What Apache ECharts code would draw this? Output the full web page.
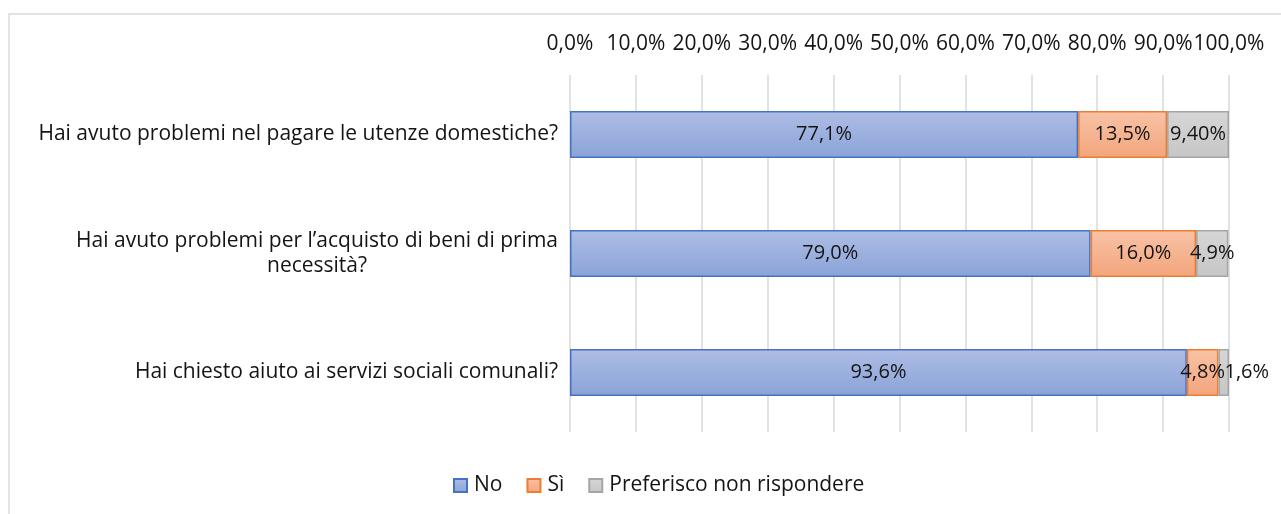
<!DOCTYPE html>
<html>
<head>
<meta charset="utf-8">
<script src="https://cdn.jsdelivr.net/npm/echarts@6/dist/echarts.min.js"></script>
<style>
  html, body { margin: 0; padding: 0; background: #ffffff; }
  #chart { width: 1281px; height: 514px; }
</style>
</head>
<body>
<div id="chart"></div>
<script>
// Survey questions (top to bottom)
const categories = [
  'Hai avuto problemi nel pagare le utenze domestiche?',
  'Hai avuto problemi per l\u2019acquisto di beni di prima necessità?',
  'Hai chiesto aiuto ai servizi sociali comunali?'
];
// Answer shares, percent
const seriesNames = ['No', 'Sì', 'Preferisco non rispondere'];
const noValues = [77.1, 79.0, 93.6];
const siValues = [13.5, 16.0, 4.8];
const nonRispValues = [9.4, 4.9, 1.6];
// Label text as printed on the segments
const nonRispLabels = ['9,40%', '4,9%', '1,6%'];

const FONT = 'Open Sans';
const FS = 21;
const TXT = '#141414';

function pct1(v) { return v.toFixed(1).replace('.', ',') + '%'; }

// Greedy word wrap for the long questions
function wrap(text, maxChars) {
  const words = text.split(' ');
  const lines = [];
  let cur = '';
  words.forEach(w => {
    const next = cur ? cur + ' ' + w : w;
    if (next.length > maxChars && cur) { lines.push(cur); cur = w; }
    else cur = next;
  });
  if (cur) lines.push(cur);
  return lines;
}

function grad(top, bottom) {
  return new echarts.graphic.LinearGradient(0, 0, 0, 1, [
    { offset: 0, color: top },
    { offset: 1, color: bottom }
  ]);
}

const styles = [
  { fill: grad('#aebde4', '#8aa3d8'), border: '#4472c4' },
  { fill: grad('#f8c3a6', '#f3a57c'), border: '#ed7d31' },
  { fill: grad('#d6d6d6', '#c6c6c6'), border: '#a5a5a5' }
];

const valueSets = [noValues, siValues, nonRispValues];

const series = valueSets.map((vals, si) => ({
  name: seriesNames[si],
  type: 'bar',
  stack: 'tot',
  barWidth: 47,
  itemStyle: { color: styles[si].fill, borderColor: styles[si].border, borderWidth: 1.5 },
  label: {
    show: true,
    position: 'inside',
    color: TXT,
    fontFamily: FONT,
    fontSize: 20,
    formatter: p => si === 2 ? nonRispLabels[p.dataIndex] : pct1(p.value)
  },
  emphasis: { disabled: true },
  data: vals.map((v, i) => {
    // the thin last segment carries its label just past its left edge
    if (si === 2 && i === 2) {
      return { value: v, label: { position: 'insideLeft', distance: 6 } };
    }
    return v;
  })
}));

const chart = echarts.init(document.getElementById('chart'), null, { renderer: 'canvas' });
chart.setOption({
  animation: false,
  backgroundColor: '#ffffff',
  graphic: [{
    type: 'rect',
    shape: { x: 9, y: 14, width: 1320, height: 540 },
    style: { fill: 'none', stroke: '#d9d9d9', lineWidth: 1.5 },
    silent: true,
    z: -10
  }],
  grid: { left: 570, right: 52, top: 75, bottom: 82, containLabel: false },
  legend: {
    top: 475,
    left: 453,
    padding: 0,
    itemWidth: 13,
    itemHeight: 13,
    itemGap: 24,
    icon: 'rect',
    textStyle: { color: TXT, fontFamily: FONT, fontSize: FS, padding: [0, 0, 0, 2] },
    data: seriesNames
  },
  xAxis: {
    type: 'value',
    position: 'top',
    min: 0, max: 100, interval: 10,
    axisLine: { show: false },
    axisTick: { show: false },
    splitLine: { show: true, lineStyle: { color: '#d9d9d9', width: 1.5 } },
    axisLabel: { color: TXT, fontFamily: FONT, fontSize: FS, margin: 20, formatter: v => pct1(v) }
  },
  yAxis: {
    type: 'category',
    inverse: true,
    data: categories,
    axisLine: { show: false },
    axisTick: { show: false },
    axisLabel: {
      margin: 12,
      richInheritPlainLabel: false,
      formatter: v => wrap(v, 52).map(l => '{c|' + l + '}').join('\n'),
      rich: { c: { align: 'center', color: TXT, fontFamily: FONT, fontSize: FS, lineHeight: 25 } }
    }
  },
  series: series
});
</script>
</body>
</html>
